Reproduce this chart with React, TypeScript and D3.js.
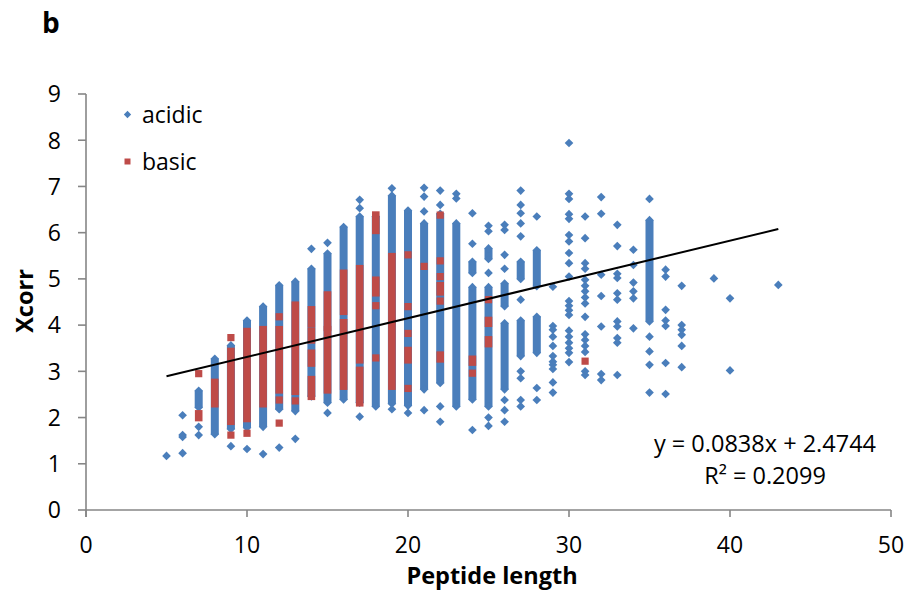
import React from "react";
import * as d3 from "d3";

// ---- data ----
// dense runs of overlapping markers: [length, lowXcorr, highXcorr]
const acidicRuns: [number, number, number][] = [
  [7, 2.22, 2.58], [8, 1.64, 3.27], [9, 1.75, 3.56], [10, 1.78, 4.1], [11, 1.8, 4.4],
  [12, 2.18, 4.86], [13, 2.14, 4.94], [14, 2.46, 5.22], [15, 2.32, 5.55], [16, 2.39, 6.12],
  [17, 2.32, 6.35], [18, 2.24, 6.35], [19, 2.3, 6.8], [20, 2.26, 6.48], [21, 2.61, 6.2],
  [22, 2.75, 6.41], [23, 2.24, 6.2], [24, 5.13, 5.37], [24, 2.39, 4.82], [25, 5.43, 5.66],
  [25, 2.24, 4.82], [26, 4.41, 4.9], [26, 2.61, 4.04], [27, 5.0, 5.37], [27, 3.33, 4.1],
  [28, 4.84, 5.62], [28, 3.4, 4.18], [35, 4.08, 6.27],
];
const acidicPoints: [number, number][] = [
  [5, 1.17], [6, 2.05], [6, 1.62], [6, 1.58], [6, 1.23], [7, 1.8], [7, 1.62],
  [9, 1.38], [10, 1.32], [11, 1.21], [12, 1.35], [13, 1.54], [14, 5.65], [15, 5.78], [15, 2.1],
  [17, 6.71], [17, 6.53], [17, 2.02], [19, 6.96], [19, 2.18], [20, 2.1],
  [21, 6.97], [21, 6.78], [21, 6.46], [21, 2.16], [22, 6.91], [22, 6.6], [22, 2.24], [22, 1.91],
  [23, 6.84], [23, 6.74], [24, 6.42], [24, 5.76], [24, 1.73],
  [25, 6.15], [25, 6.03], [25, 5.13], [25, 2.0], [25, 1.82],
  [26, 6.17], [26, 6.06], [26, 5.52], [26, 5.22], [26, 2.38], [26, 2.16], [26, 1.91],
  [27, 6.91], [27, 6.6], [27, 6.42], [27, 6.2], [27, 5.92], [27, 4.55], [27, 3.0], [27, 2.85], [27, 2.38], [27, 2.24],
  [28, 6.35], [28, 2.64], [28, 2.38],
  [29, 4.83], [29, 3.98], [29, 3.9], [29, 3.75], [29, 3.55], [29, 3.33], [29, 3.21], [29, 3.14], [29, 3.05], [29, 2.76], [29, 2.54],
  [30, 7.94], [30, 6.84], [30, 6.73], [30, 6.4], [30, 6.3], [30, 5.95], [30, 5.81], [30, 5.56], [30, 5.34], [30, 5.05],
  [30, 4.52], [30, 4.42], [30, 4.32], [30, 4.22], [30, 3.88], [30, 3.75], [30, 3.62], [30, 3.5], [30, 3.4], [30, 3.2],
  [31, 6.35], [31, 5.88], [31, 5.34], [31, 5.22], [31, 4.98], [31, 4.85], [31, 4.73], [31, 4.6], [31, 4.47], [31, 4.18],
  [31, 3.8], [31, 3.68], [31, 3.55], [31, 3.42], [31, 3.0], [31, 2.92],
  [32, 6.77], [32, 6.41], [32, 5.09], [32, 4.63], [32, 3.97], [32, 2.94], [32, 2.81],
  [33, 6.17], [33, 5.71], [33, 5.11], [33, 5.02], [33, 4.69], [33, 4.55], [33, 4.08], [33, 3.97], [33, 3.72], [33, 3.62], [33, 2.92],
  [34, 5.63], [34, 5.3], [34, 4.92], [34, 4.73], [34, 4.58], [34, 3.93],
  [35, 6.73], [35, 3.75], [35, 3.43], [35, 3.14], [35, 2.54],
  [36, 5.2], [36, 5.05], [36, 4.33], [36, 4.1], [36, 3.98], [36, 3.18], [36, 2.51],
  [37, 4.85], [37, 4.0], [37, 3.9], [37, 3.79], [37, 3.55], [37, 3.09],
  [39, 5.01], [40, 4.58], [40, 3.02], [43, 4.87],
];
const basicRuns: [number, number, number][] = [
  [7, 2.0, 2.08], [8, 2.3, 2.76], [9, 1.92, 3.43], [10, 1.98, 3.86], [11, 2.3, 3.9],
  [12, 2.6, 3.9], [13, 2.57, 4.43], [14, 4.04, 4.33], [14, 3.68, 3.87], [14, 3.18, 3.39],
  [14, 2.46, 2.82], [15, 3.95, 4.65], [15, 2.6, 3.9], [16, 4.3, 5.12], [16, 2.68, 4.05],
  [17, 3.25, 5.22], [17, 2.32, 3.02], [18, 6.05, 6.38], [18, 4.7, 4.97], [19, 2.68, 5.48],
  [20, 3.25, 3.45], [22, 4.72, 4.85], [22, 3.27, 3.35], [24, 3.2, 3.26], [25, 4.04, 4.1], [25, 3.6, 3.68],
];
const basicPoints: [number, number][] = [
  [7, 2.95], [9, 3.73], [9, 1.62], [10, 1.66], [12, 4.18], [12, 2.38], [12, 1.88], [13, 2.36],
  [18, 4.42], [18, 3.29], [20, 5.52], [20, 4.4], [20, 3.82], [20, 2.63], [21, 5.27],
  [22, 6.38], [22, 5.39], [22, 5.05], [22, 4.52], [24, 2.96], [25, 4.55], [31, 3.22],
];
const xTicks = [0, 10, 20, 30, 40, 50];
const yTicks = [0, 1, 2, 3, 4, 5, 6, 7, 8, 9];
const trendSlope = 0.0838;
const trendIntercept = 2.4744;
const trendRange = [5, 43];
const seriesNames = ["acidic", "basic"];
const equationText = "y = 0.0838x + 2.4744";
const r2Text = "R² = 0.2099";

const BLUE = "#4A7EBB";
const RED = "#BE4B48";
const AXIS = "#868686";
const FONT = "'Open Sans', 'DejaVu Sans', sans-serif";

export default function App() {
  const x = d3.scaleLinear().domain([0, 50]).range([86, 891]);
  const y = d3.scaleLinear().domain([0, 9]).range([510, 94]);
  const diamond = d3.symbol().type(d3.symbolDiamond2).size(48)();
  const square = d3.symbol().type(d3.symbolSquare).size(52)();
  const legDiamond = d3.symbol().type(d3.symbolDiamond2).size(34)();
  const legSquare = d3.symbol().type(d3.symbolSquare).size(36)();
  const trend = d3.line<number>().x((d) => x(d)).y((d) => y(trendSlope * d + trendIntercept));

  return (
    <svg width={909} height={593} style={{ position: "absolute", left: 0, top: 0, background: "#fff" }}
      fontFamily={FONT}>
      <rect width={909} height={593} fill="#fff" />
      <text x={42} y={33} fontSize={28} fontWeight="bold" fill="#000">b</text>

      {/* axes */}
      <line x1={x(0)} x2={x(0)} y1={y(9)} y2={y(0) + 7} stroke={AXIS} strokeWidth={1.6} />
      <line x1={x(0)} x2={x(50)} y1={y(0)} y2={y(0)} stroke={AXIS} strokeWidth={1.6} />
      {yTicks.map((t) => (
        <g key={"y" + t}>
          <line x1={x(0) - 8} x2={x(0)} y1={y(t)} y2={y(t)} stroke={AXIS} strokeWidth={1.6} />
          <text x={61} y={y(t)} dy="0.36em" textAnchor="end" fontSize={23} fill="#000">{t}</text>
        </g>
      ))}
      {xTicks.map((t) => (
        <g key={"x" + t}>
          <line x1={x(t)} x2={x(t)} y1={y(0)} y2={y(0) + 7} stroke={AXIS} strokeWidth={1.6} />
          <text x={x(t)} y={553} textAnchor="middle" fontSize={23} fill="#000">{t}</text>
        </g>
      ))}
      <text x={492} y={584} textAnchor="middle" fontSize={23.5} fontWeight="bold" fill="#000">Peptide length</text>
      <text transform={`translate(33,301) rotate(-90)`} textAnchor="middle" fontSize={23.5} fontWeight="bold" fill="#000">Xcorr</text>

      {/* acidic */}
      <g fill={BLUE}>
        {acidicRuns.map(([l, lo, hi], i) => (
          <g key={"ar" + i}>
            <rect x={x(l) - 4} width={8} y={y(hi)} height={y(lo) - y(hi)} />
            <path d={diamond} transform={`translate(${x(l)},${y(hi)})`} />
            <path d={diamond} transform={`translate(${x(l)},${y(lo)})`} />
          </g>
        ))}
        {acidicPoints.map(([l, v], i) => (
          <path key={"ap" + i} d={diamond} transform={`translate(${x(l)},${y(v)})`} />
        ))}
      </g>
      {/* basic */}
      <g fill={RED}>
        {basicRuns.map(([l, lo, hi], i) => (
          <rect key={"br" + i} x={x(l) - 3.8} width={7.6} y={y(hi) - 3.8} height={y(lo) - y(hi) + 7.6} />
        ))}
        {basicPoints.map(([l, v], i) => (
          <path key={"bp" + i} d={square} transform={`translate(${x(l)},${y(v)})`} />
        ))}
      </g>

      {/* trendline */}
      <path d={trend(trendRange) || ""} stroke="#000" strokeWidth={2} fill="none" />
      <text x={765} y={444} dy="0.36em" textAnchor="middle" fontSize={23.5} fill="#000">{equationText}</text>
      <text x={765} y={476} dy="0.36em" textAnchor="middle" fontSize={23.5} fill="#000">{r2Text}</text>

      {/* legend */}
      <path d={legDiamond} transform="translate(127.5,114.5)" fill={BLUE} />
      <text x={142} y={114.5} dy="0.36em" fontSize={23} fill="#000">{seriesNames[0]}</text>
      <path d={legSquare} transform="translate(127.5,161.5)" fill={RED} />
      <text x={142} y={161.5} dy="0.36em" fontSize={23} fill="#000">{seriesNames[1]}</text>
    </svg>
  );
}
